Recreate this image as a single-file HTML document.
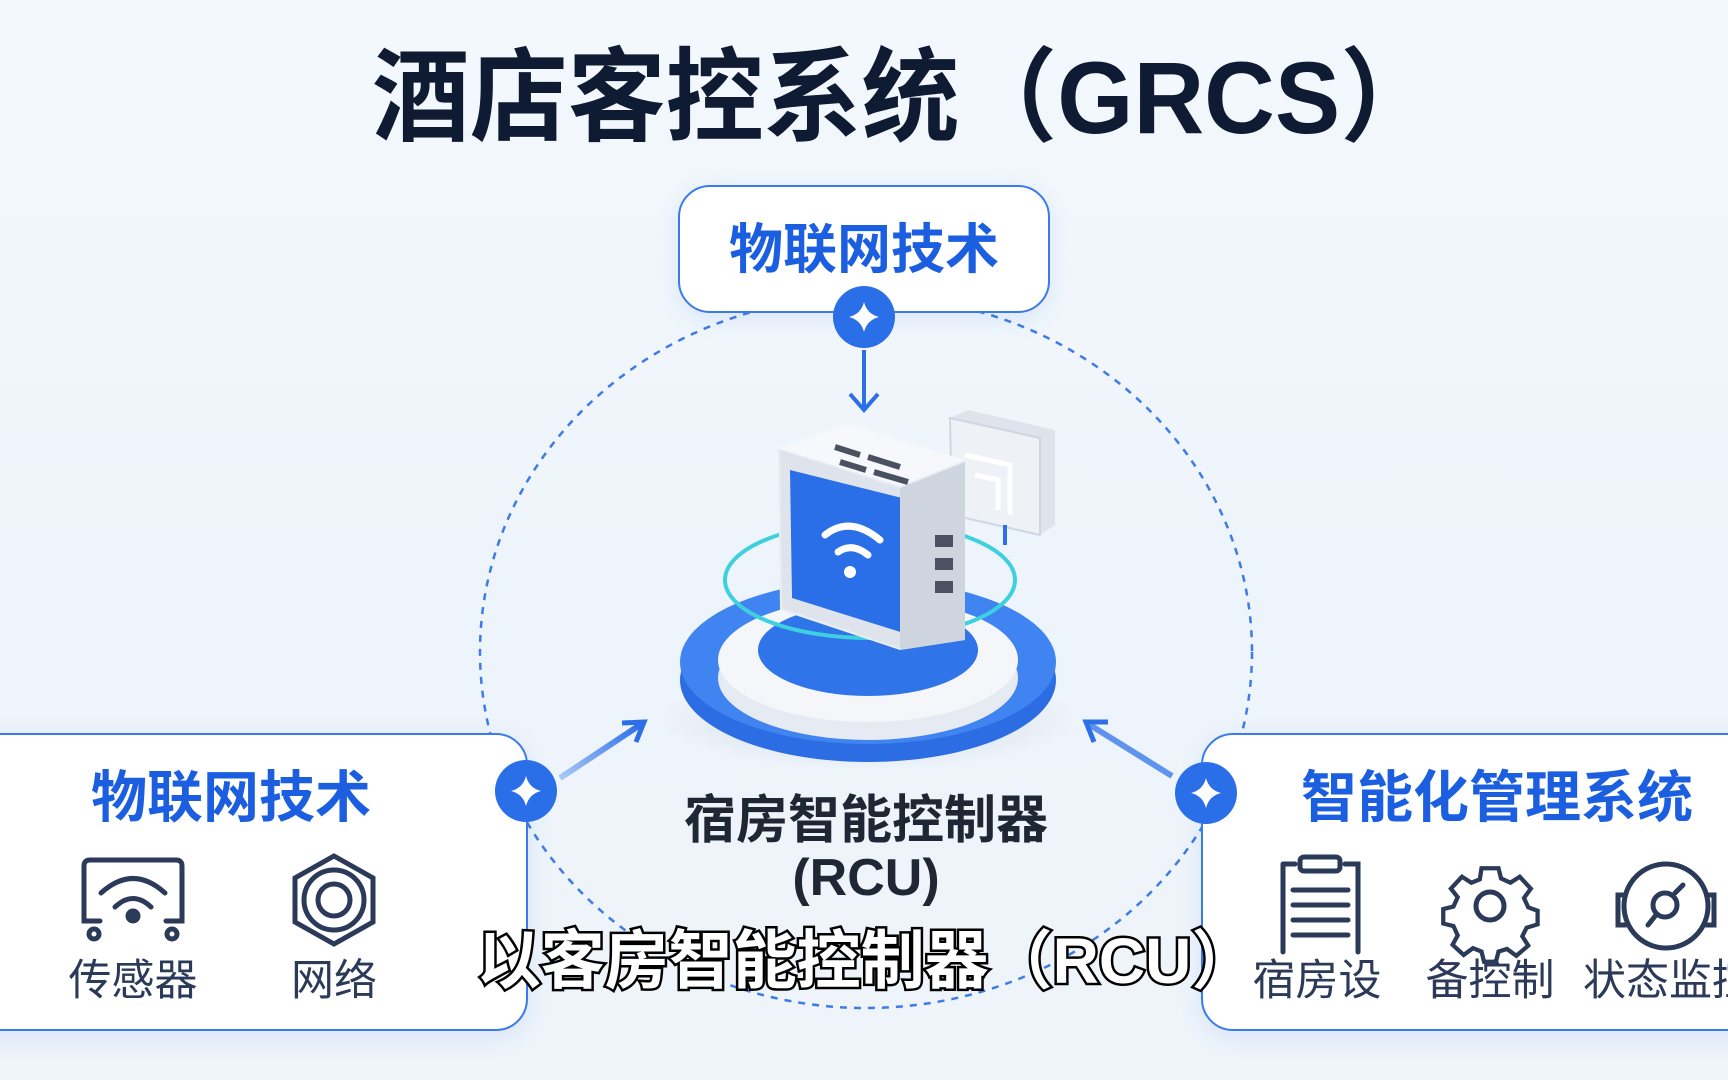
<!DOCTYPE html>
<html><head><meta charset="utf-8"><style>
html,body{margin:0;padding:0}
body{width:1728px;height:1080px;overflow:hidden;position:relative;background:linear-gradient(180deg,#f3f8fd 0%,#eef4fb 55%,#eef4fa 100%);font-family:"Liberation Sans","Noto Sans CJK SC",sans-serif}
.t{position:absolute;white-space:nowrap;text-align:center;transform:translateX(-50%)}
.box{position:absolute;background:#fff;border:2px solid #3a7bea;border-radius:32px;box-shadow:0 6px 24px rgba(60,120,220,.12)}
</style></head><body>
<div class="t" style="left:905px;top:16px;font-size:102px;font-weight:bold;color:#0f1a33;transform:translateX(-50%) scaleX(0.96)">酒店客控系统（GRCS）</div>

<svg width="1728" height="1080" style="position:absolute;left:0;top:0">
<defs>
<linearGradient id="ar" x1="0" y1="1" x2="1" y2="0"><stop offset="0" stop-color="#a9c8f6"/><stop offset="1" stop-color="#2d6fe6"/></linearGradient>
<radialGradient id="sh" cx="0.5" cy="0.5" r="0.5"><stop offset="0" stop-color="#aab8cc" stop-opacity=".5"/><stop offset="1" stop-color="#aab8cc" stop-opacity="0"/></radialGradient>
</defs>
<ellipse cx="866" cy="652" rx="386" ry="356" fill="none" stroke="#3d7be6" stroke-width="2.5" stroke-dasharray="7 7"/>
<ellipse cx="868" cy="720" rx="210" ry="50" fill="url(#sh)"/>
<ellipse cx="868" cy="680" rx="188" ry="82" fill="#2c6de3"/>
<ellipse cx="868" cy="662" rx="188" ry="82" fill="#3f84f0"/>
<ellipse cx="868" cy="678" rx="150" ry="62" fill="#e6eaf2"/>
<ellipse cx="868" cy="660" rx="150" ry="62" fill="#f4f6fa"/>
<ellipse cx="868" cy="650" rx="110" ry="46" fill="#2f74e8"/>
<ellipse cx="870" cy="580" rx="145" ry="58" fill="none" stroke="#3fd0e0" stroke-width="4"/>
<path d="M950 418 L968 410 L1055 430 L1055 525 L1040 535 L962 515Z" fill="#dfe4ec"/>
<path d="M950 418 L1040 438 L1040 535 L952 515Z" fill="#eef1f6" stroke="#cfd6e2" stroke-width="2"/>
<path d="M965 455 L1010 465 L1010 515 M975 475 L998 480 L998 510" fill="none" stroke="#fff" stroke-width="5"/>
<line x1="1005" y1="525" x2="1005" y2="545" stroke="#2d6fe6" stroke-width="4"/>
<path d="M778 448 L848 424 L965 460 L965 640 L900 650 L780 610Z" fill="#e9edf4"/>
<path d="M778 448 L900 486 L965 460 L848 424Z" fill="#f7f8fb"/>
<path d="M780 450 L900 488 L900 648 L782 608Z" fill="#dfe4ec"/>
<path d="M790 470 L910 500 L910 635 L792 598Z" fill="#2a6fe8"/>
<path d="M900 488 L965 462 L965 640 L900 650Z" fill="#cfd5df"/>
<g fill="#4a5262"><rect x="935" y="535" width="18" height="12"/><rect x="935" y="558" width="18" height="12"/><rect x="935" y="581" width="18" height="12"/></g>
<g stroke="#4a5262" stroke-width="6"><line x1="835" y1="447" x2="860" y2="455"/><line x1="868" y1="457" x2="900" y2="467"/><line x1="840" y1="462" x2="866" y2="470"/><line x1="874" y1="472" x2="908" y2="482"/></g>
<g fill="none" stroke="#fff" stroke-width="7" stroke-linecap="round"><path d="M825 535 Q850 515 880 540"/><path d="M838 552 Q852 542 868 555"/></g>
<circle cx="850" cy="572" r="6" fill="#fff"/>
<line x1="864" y1="350" x2="864" y2="408" stroke="#2d6fe6" stroke-width="4"/>
<path d="M850 394 L864 410 L878 394" fill="none" stroke="#2d6fe6" stroke-width="4"/>
<line x1="560" y1="778" x2="640" y2="725" stroke="url(#ar)" stroke-width="6"/>
<path d="M622 723 L644 722 L636 742" fill="none" stroke="#2d6fe6" stroke-width="5"/>
<line x1="1172" y1="776" x2="1090" y2="725" stroke="#5e94ee" stroke-width="6"/>
<path d="M1108 722 L1086 722 L1094 742" fill="none" stroke="#2d6fe6" stroke-width="5"/>
</svg>

<div class="box" style="left:678px;top:185px;width:368px;height:124px"></div>
<div class="t" style="left:864px;top:205px;font-size:54px;font-weight:bold;color:#1b5fe0">物联网技术</div>

<div class="box" style="left:-40px;top:733px;width:564px;height:294px"></div>
<div class="t" style="left:231px;top:753px;font-size:56px;font-weight:bold;color:#1b5fe0">物联网技术</div>
<div class="box" style="left:1201px;top:733px;width:600px;height:294px"></div>
<div class="t" style="left:1497px;top:753px;font-size:56px;font-weight:bold;color:#1b5fe0">智能化管理系统</div>

<svg width="1728" height="1080" style="position:absolute;left:0;top:0">
<g fill="#2a6fe8"><circle cx="864" cy="317" r="31"/><circle cx="526" cy="791" r="31"/><circle cx="1206" cy="793" r="31"/></g>
<g fill="#fff">
<path d="M864 302 Q867 314 879 317 Q867 320 864 332 Q861 320 849 317 Q861 314 864 302Z"/>
<path d="M526 776 Q529 788 541 791 Q529 794 526 806 Q523 794 511 791 Q523 788 526 776Z"/>
<path d="M1206 778 Q1209 790 1221 793 Q1209 796 1206 808 Q1203 796 1191 793 Q1203 790 1206 778Z"/>
</g>
<g fill="none" stroke="#2a3a58" stroke-width="5" stroke-linecap="round">
<path d="M100 921 L84 921 L84 866 Q84 860 90 860 L176 860 Q182 860 182 866 L182 921 L166 921"/>
<path d="M101 893 Q133 864 165 893"/><path d="M115 907 Q133 890 151 907"/>
<circle cx="94" cy="934" r="5"/><circle cx="172" cy="934" r="5"/>
<circle cx="133" cy="916" r="5" fill="#2a3a58"/>
<path d="M334 856 L373 878 L373 922 L334 944 L295 922 L295 878Z"/>
<circle cx="334" cy="900" r="16"/><circle cx="334" cy="900" r="30"/>
<path d="M1283 864 L1283 952 M1358 952 L1358 864 L1345 864 M1295 864 L1283 864"/>
<rect x="1300" y="857" width="40" height="14" rx="4"/>
<path d="M1293 890 L1348 890 M1293 905 L1348 905 M1293 920 L1348 920 M1293 935 L1348 935"/>
<circle cx="1490" cy="906" r="14"/>
<path d="M1480 860 L1500 860 L1503 872 L1514 877 L1525 870 L1538 884 L1530 895 L1535 906 L1546 910 L1546 926 L1533 930 L1528 940 L1535 951 L1521 963 L1510 955 L1500 958 L1497 970 L1483 970 L1480 958 L1470 954 L1459 962 L1446 950 L1452 939 L1447 928 L1435 925 L1435 908 L1447 905 L1452 894 L1444 884 L1457 870 L1468 877 L1478 873Z" transform="translate(1490 915) scale(0.85) translate(-1490 -915)"/>
<circle cx="1666" cy="906" r="42"/>
<path d="M1624 895 L1618 895 L1618 925 L1626 925 M1708 895 L1714 895 L1714 925 L1706 925"/>
<circle cx="1665" cy="905" r="12"/><path d="M1656 915 L1648 925 M1675 893 L1683 885"/>
</g>
</svg>

<div class="t" style="left:133px;top:946px;font-size:43px;color:#2a3a58">传感器</div>
<div class="t" style="left:334px;top:946px;font-size:43px;color:#2a3a58">网络</div>
<div class="t" style="left:1317px;top:946px;font-size:43px;color:#2a3a58">宿房设</div>
<div class="t" style="left:1490px;top:946px;font-size:43px;color:#2a3a58">备控制</div>
<div style="position:absolute;left:1583px;top:946px;font-size:43px;color:#2a3a58;white-space:nowrap">状态监控</div>

<div class="t" style="left:866px;top:778px;font-size:52px;font-weight:bold;color:#1f2735">宿房智能控制器</div>
<div class="t" style="left:866px;top:848px;font-size:52px;font-weight:bold;color:#1f2735">(RCU)</div>

<div class="t" style="left:866px;top:910px;font-size:64px;font-weight:bold;color:#fff;-webkit-text-stroke:5px #000;paint-order:stroke fill">以客房智能控制器（RCU）</div>
</body></html>
